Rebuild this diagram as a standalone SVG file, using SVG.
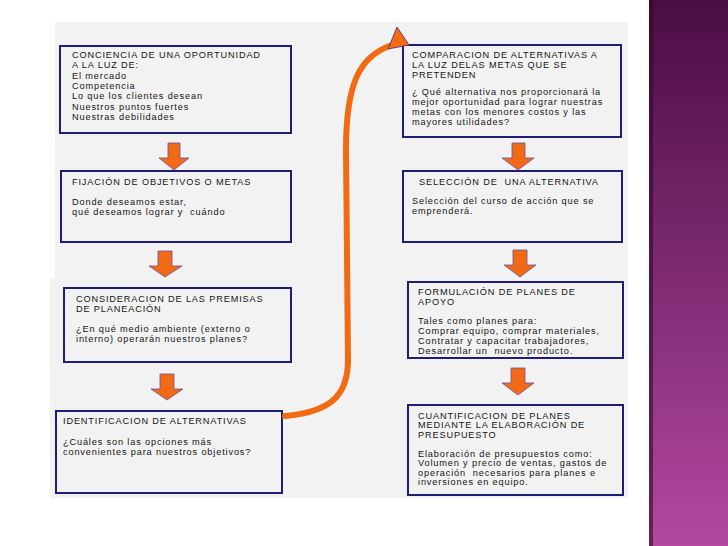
<svg xmlns="http://www.w3.org/2000/svg" width="728" height="546" viewBox="0 0 728 546">
<defs>
<linearGradient id="band" x1="0" y1="0" x2="0" y2="1">
<stop offset="0" stop-color="#4a0d42"/>
<stop offset="0.5" stop-color="#7e2a72"/>
<stop offset="1" stop-color="#b4489f"/>
</linearGradient>
<style>
.box{fill:#f2f2f2;stroke:#1e1e78;stroke-width:2}
.t{font-family:"Liberation Sans",Arial,sans-serif;font-size:9.2px;letter-spacing:0.85px;fill:#151515;white-space:pre}
.ba{fill:#f36a16;stroke:#6a4f9a;stroke-width:0.8}
</style>
</defs>
<rect x="0" y="0" width="728" height="546" fill="#ffffff"/>
<rect x="55" y="22" width="573" height="256" fill="#f2f2f2"/>
<rect x="50" y="278" width="578" height="220" fill="#f2f2f2"/>
<rect x="649" y="0" width="79" height="546" fill="url(#band)"/>
<rect x="649" y="0" width="4" height="546" fill="#2e0a28" opacity="0.6"/>

<g id="n1">
<rect class="box" x="60" y="46" width="231" height="87"/>
<text class="t" x="72" y="58">CONCIENCIA DE UNA OPORTUNIDAD</text>
<text class="t" x="72" y="68.3">A LA LUZ DE:</text>
<text class="t" x="72" y="78.6">El mercado</text>
<text class="t" x="72" y="88.9">Competencia</text>
<text class="t" x="72" y="99.2">Lo que los clientes desean</text>
<text class="t" x="72" y="109.5">Nuestros puntos fuertes</text>
<text class="t" x="72" y="119.8">Nuestras debilidades</text>
</g>
<g id="n2">
<rect class="box" x="61" y="171" width="230" height="71"/>
<text class="t" x="72" y="185">FIJACIÓN DE OBJETIVOS O METAS</text>
<text class="t" x="72" y="205">Donde deseamos estar,</text>
<text class="t" x="72" y="215">qué deseamos lograr y  cuándo</text>
</g>
<g id="n3">
<rect class="box" x="64" y="288" width="227" height="74"/>
<text class="t" x="76" y="302">CONSIDERACION DE LAS PREMISAS</text>
<text class="t" x="76" y="312">DE PLANEACIÓN</text>
<text class="t" x="76" y="332">¿En qué medio ambiente (externo o</text>
<text class="t" x="76" y="342">interno) operarán nuestros planes?</text>
</g>
<g id="n4">
<rect class="box" x="56" y="411" width="226" height="82"/>
<text class="t" x="63" y="424">IDENTIFICACION DE ALTERNATIVAS</text>
<text class="t" x="63" y="445">¿Cuáles son las opciones más</text>
<text class="t" x="63" y="455">convenientes para nuestros objetivos?</text>
</g>
<g id="n5">
<rect class="box" x="403" y="45" width="218" height="92"/>
<text class="t" x="412" y="58">COMPARACION DE ALTERNATIVAS A</text>
<text class="t" x="412" y="68">LA LUZ DELAS METAS QUE SE</text>
<text class="t" x="412" y="78">PRETENDEN</text>
<text class="t" x="412" y="95">¿ Qué alternativa nos proporcionará la</text>
<text class="t" x="412" y="105">mejor oportunidad para lograr nuestras</text>
<text class="t" x="412" y="115">metas con los menores costos y las</text>
<text class="t" x="412" y="125">mayores utilidades?</text>
</g>
<g id="n6">
<rect class="box" x="403" y="171" width="219" height="71"/>
<text class="t" x="419" y="185">SELECCIÓN DE  UNA ALTERNATIVA</text>
<text class="t" x="412" y="204">Selección del curso de acción que se</text>
<text class="t" x="412" y="214">emprenderá.</text>
</g>
<g id="n7">
<rect class="box" x="408" y="282" width="215" height="76"/>
<text class="t" x="418" y="295">FORMULACIÓN DE PLANES DE</text>
<text class="t" x="418" y="305">APOYO</text>
<text class="t" x="418" y="324">Tales como planes para:</text>
<text class="t" x="418" y="334">Comprar equipo, comprar materiales,</text>
<text class="t" x="418" y="344">Contratar y capacitar trabajadores,</text>
<text class="t" x="418" y="354">Desarrollar un  nuevo producto.</text>
</g>
<g id="n8">
<rect class="box" x="408" y="405" width="215" height="90"/>
<text class="t" x="418" y="418.5">CUANTIFICACION DE PLANES</text>
<text class="t" x="418" y="428">MEDIANTE LA ELABORACIÓN DE</text>
<text class="t" x="418" y="437.5">PRESUPUESTO</text>
<text class="t" x="418" y="456.5">Elaboración de presupuestos como:</text>
<text class="t" x="418" y="466">Volumen y precio de ventas, gastos de</text>
<text class="t" x="418" y="475.5">operación  necesarios para planes e</text>
<text class="t" x="418" y="485">inversiones en equipo.</text>
</g>

<g id="connectors">
<polygon class="ba" points="168,143 180,143 180,158 189,158 174,170 159,158 168,158"/>
<polygon class="ba" points="158,251 172,251 172,266 182,266 165,277 149,266 158,266"/>
<polygon class="ba" points="160,374 174,374 174,389 183,389 167,400 151,389 160,389"/>
<polygon class="ba" points="512,143 525,143 525,158 534,158 518,170 502,158 512,158"/>
<polygon class="ba" points="513,250 527,250 527,265 536,265 520,277 504,265 513,265"/>
<polygon class="ba" points="511,368 525,368 525,383 534,383 518,395 502,383 511,383"/>
<path d="M285,416 C330,412 348,396 348,360 L346,150 C346,82 360,56 392,45" fill="none" stroke="#f26a12" stroke-width="6" stroke-linecap="round"/>
<polygon points="397,27 409,45 388,49" fill="#f26a12" stroke="#6a3f80" stroke-width="1"/>
</g>
</svg>
